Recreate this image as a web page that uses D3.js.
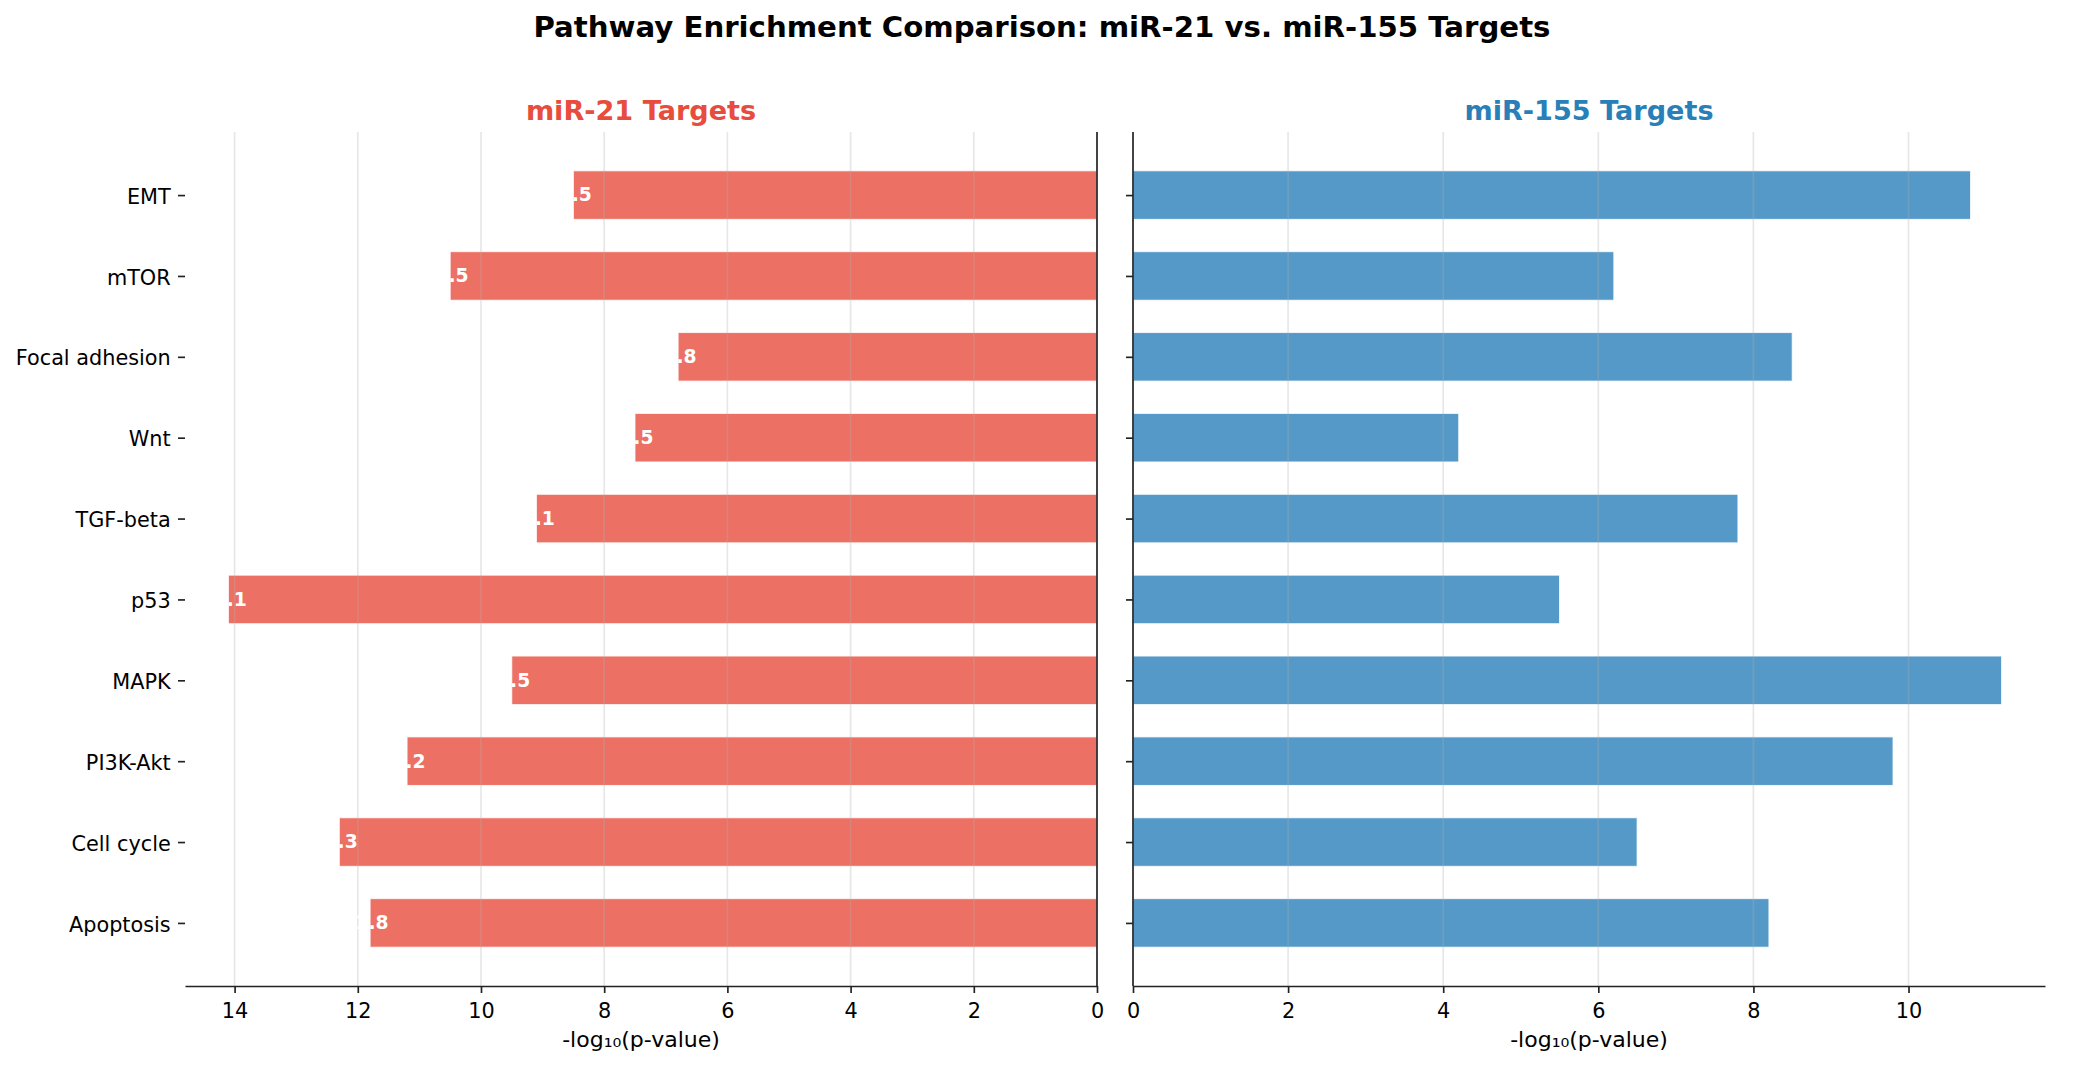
<!DOCTYPE html>
<html>
<head>
<meta charset="utf-8">
<script src="https://cdn.jsdelivr.net/npm/d3@7"></script>
<style>
  html, body { margin: 0; padding: 0; background: #fff; }
  svg { display: block; font-family: "DejaVu Sans", sans-serif; }
</style>
</head>
<body>
<svg id="chart" width="2081" height="1067"></svg>
<script>
// ---- data ----
const categories = ["Apoptosis", "Cell cycle", "PI3K-Akt", "MAPK", "p53", "TGF-beta", "Wnt", "Focal adhesion", "mTOR", "EMT"];
const mir21Values = [11.8, 12.3, 11.2, 9.5, 14.1, 9.1, 7.5, 6.8, 10.5, 8.5];
const mir155Values = [8.2, 6.5, 9.8, 11.2, 5.5, 7.8, 4.2, 8.5, 6.2, 10.8];
const leftTicks = [0, 2, 4, 6, 8, 10, 12, 14];
const rightTicks = [0, 2, 4, 6, 8, 10];
const chartTitle = "Pathway Enrichment Comparison: miR-21 vs. miR-155 Targets";
const leftTitle = "miR-21 Targets";
const rightTitle = "miR-155 Targets";
const xLabel = "-log\u2081\u2080(p-value)";

(function () {
// ---- layout ----
const W = 2081, H = 1067;
const plotTop = 132, plotBottom = 986;
const L = { x0: 185, x1: 1097 };
const R = { x0: 1133, x1: 2045 };
const red = "#e74c3c", blue = "#2980b9";
const axisColor = "#222";
const lw = 1.67;

const svg = d3.select("#chart");
svg.append("rect").attr("width", W).attr("height", H).attr("fill", "#fff");

const y = d3.scalePoint().domain(categories).range([plotBottom, plotTop]).padding(0.78);
const step = y.step();
const barH = step * 0.6;

const xL = d3.scaleLinear().domain([0, d3.max(mir21Values) * 1.05]).range([L.x1, L.x0]);
const xR = d3.scaleLinear().domain([0, d3.max(mir155Values) * 1.05]).range([R.x0, R.x1]);

function styleAxis(g) {
  g.selectAll("line").attr("stroke", axisColor).attr("stroke-width", lw);
  g.selectAll("path.domain").attr("stroke", axisColor).attr("stroke-width", lw);
  g.selectAll("text").attr("fill", "#000").attr("font-family", "DejaVu Sans");
}

// ---- left panel ----
const gL = svg.append("g");
gL.selectAll("rect.bar").data(categories).join("rect")
  .attr("class", "bar")
  .attr("x", (d, i) => xL(mir21Values[i]))
  .attr("width", (d, i) => xL(0) - xL(mir21Values[i]))
  .attr("y", d => y(d) - barH / 2)
  .attr("height", barH)
  .attr("fill", red).attr("fill-opacity", 0.8)
  .attr("stroke", "#fff").attr("stroke-opacity", 0.8).attr("stroke-width", 1);

// grid (above bars, like matplotlib)
gL.selectAll("line.grid").data(leftTicks).join("line")
  .attr("class", "grid")
  .attr("x1", d => xL(d)).attr("x2", d => xL(d))
  .attr("y1", plotTop).attr("y2", plotBottom)
  .attr("stroke", "#b0b0b0").attr("stroke-opacity", 0.3).attr("stroke-width", lw);

// value labels (white, partly over the bar)
gL.selectAll("text.val").data(categories).join("text")
  .attr("class", "val")
  .attr("x", (d, i) => xL(mir21Values[i] - 0.3))
  .attr("y", d => y(d))
  .attr("dy", "0.34em")
  .attr("text-anchor", "end")
  .attr("font-size", 18.75).attr("font-weight", "bold")
  .attr("fill", "#fff")
  .text((d, i) => mir21Values[i].toFixed(1));

// right spine of left panel (x = 0)
gL.append("line").attr("x1", xL(0)).attr("x2", xL(0)).attr("y1", plotTop).attr("y2", plotBottom)
  .attr("stroke", axisColor).attr("stroke-width", lw);

const axLx = gL.append("g").attr("transform", `translate(0,${plotBottom})`)
  .call(d3.axisBottom(xL).tickValues(leftTicks).tickFormat(d3.format("d")).tickSize(7).tickSizeOuter(0).tickPadding(10));
axLx.selectAll("text").attr("font-size", 20.8);
styleAxis(axLx);

const axLy = gL.append("g").attr("transform", `translate(${L.x0},0)`)
  .call(d3.axisLeft(y).tickSize(7).tickPadding(7.3));
axLy.select("path.domain").remove();
axLy.selectAll("text").attr("font-size", 20.8).attr("dy", "0.39em");
styleAxis(axLy);

gL.append("text").attr("x", (L.x0 + L.x1) / 2).attr("y", 120)
  .attr("text-anchor", "middle").attr("font-size", 27.1).attr("font-weight", "bold")
  .attr("fill", red).text(leftTitle);

gL.append("text").attr("x", (L.x0 + L.x1) / 2).attr("y", 1047)
  .attr("text-anchor", "middle").attr("font-size", 22).attr("fill", "#000").text(xLabel);

// ---- right panel ----
const gR = svg.append("g");
gR.selectAll("rect.bar").data(categories).join("rect")
  .attr("class", "bar")
  .attr("x", xR(0))
  .attr("width", (d, i) => xR(mir155Values[i]) - xR(0))
  .attr("y", d => y(d) - barH / 2)
  .attr("height", barH)
  .attr("fill", blue).attr("fill-opacity", 0.8)
  .attr("stroke", "#fff").attr("stroke-opacity", 0.8).attr("stroke-width", 1);

gR.selectAll("line.grid").data(rightTicks).join("line")
  .attr("class", "grid")
  .attr("x1", d => xR(d)).attr("x2", d => xR(d))
  .attr("y1", plotTop).attr("y2", plotBottom)
  .attr("stroke", "#b0b0b0").attr("stroke-opacity", 0.3).attr("stroke-width", lw);

const axRx = gR.append("g").attr("transform", `translate(0,${plotBottom})`)
  .call(d3.axisBottom(xR).tickValues(rightTicks).tickFormat(d3.format("d")).tickSize(7).tickSizeOuter(0).tickPadding(10));
axRx.selectAll("text").attr("font-size", 20.8);
styleAxis(axRx);

const axRy = gR.append("g").attr("transform", `translate(${R.x0},0)`)
  .call(d3.axisLeft(y).tickSize(7).tickFormat(() => ""));
axRy.select("path.domain").remove();
styleAxis(axRy);

gR.append("line").attr("x1", xR(0)).attr("x2", xR(0)).attr("y1", plotTop).attr("y2", plotBottom)
  .attr("stroke", axisColor).attr("stroke-width", lw);

gR.append("text").attr("x", (R.x0 + R.x1) / 2).attr("y", 120)
  .attr("text-anchor", "middle").attr("font-size", 27.1).attr("font-weight", "bold")
  .attr("fill", blue).text(rightTitle);

gR.append("text").attr("x", (R.x0 + R.x1) / 2).attr("y", 1047)
  .attr("text-anchor", "middle").attr("font-size", 22).attr("fill", "#000").text(xLabel);

// ---- figure title ----
svg.append("text").attr("x", 1042).attr("y", 37)
  .attr("text-anchor", "middle").attr("font-size", 29.2).attr("font-weight", "bold")
  .attr("fill", "#000").text(chartTitle);
})();
</script>
</body>
</html>
